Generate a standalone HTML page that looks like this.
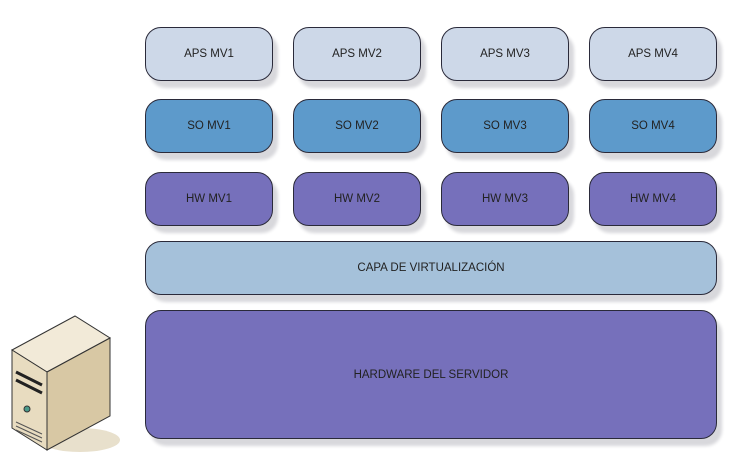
<!DOCTYPE html>
<html><head><style>
body{margin:0;width:737px;height:458px;background:#fff;position:relative;overflow:hidden;font-family:"Liberation Sans",sans-serif;}
.b{position:absolute;border:1.5px solid #2a2a3a;border-radius:16px;box-sizing:border-box;display:flex;align-items:center;justify-content:center;font-size:11.5px;color:#222;box-shadow:5px 7px 3px #d8d8dc;}
.a{background:#cdd8e8;}
.s{background:#5d9acb;}
.h{background:#7670bb;}
.c{background:#a5c1da;}
</style></head><body>
<div class="b a" style="left:145px;top:27px;width:128px;height:54px">APS MV1</div>
<div class="b a" style="left:293px;top:27px;width:128px;height:54px">APS MV2</div>
<div class="b a" style="left:441px;top:27px;width:128px;height:54px">APS MV3</div>
<div class="b a" style="left:589px;top:27px;width:128px;height:54px">APS MV4</div>
<div class="b s" style="left:145px;top:99px;width:128px;height:54px">SO MV1</div>
<div class="b s" style="left:293px;top:99px;width:128px;height:54px">SO MV2</div>
<div class="b s" style="left:441px;top:99px;width:128px;height:54px">SO MV3</div>
<div class="b s" style="left:589px;top:99px;width:128px;height:54px">SO MV4</div>
<div class="b h" style="left:145px;top:172px;width:128px;height:54px">HW MV1</div>
<div class="b h" style="left:293px;top:172px;width:128px;height:54px">HW MV2</div>
<div class="b h" style="left:441px;top:172px;width:128px;height:54px">HW MV3</div>
<div class="b h" style="left:589px;top:172px;width:128px;height:54px">HW MV4</div>
<div class="b c" style="left:145px;top:241px;width:572px;height:54px">CAPA DE VIRTUALIZACIÓN</div>
<div class="b h" style="left:145px;top:310px;width:572px;height:129px">HARDWARE DEL SERVIDOR</div>
<svg style="position:absolute;left:0;top:300px" width="130" height="158">
<ellipse cx="80" cy="140" rx="40" ry="12" fill="#e8e0cc"/>
<polygon points="12,50 75,16 110,38 47,72" fill="#f2ead8" stroke="#333" stroke-width="1"/>
<polygon points="12,50 47,72 47,150 12,128" fill="#e8dcc0" stroke="#333" stroke-width="1"/>
<polygon points="47,72 110,38 110,116 47,150" fill="#d8c8a4" stroke="#333" stroke-width="1"/>
<path d="M16 72 L42 85 M16 80 L42 93" stroke="#222" stroke-width="3"/>
<circle cx="27" cy="109" r="3" fill="#4a9a8a" stroke="#333"/>
<path d="M16 122 L42 134 M16 126 L42 138 M16 130 L42 142" stroke="#555" stroke-width="1"/>
</svg>
</body></html>
